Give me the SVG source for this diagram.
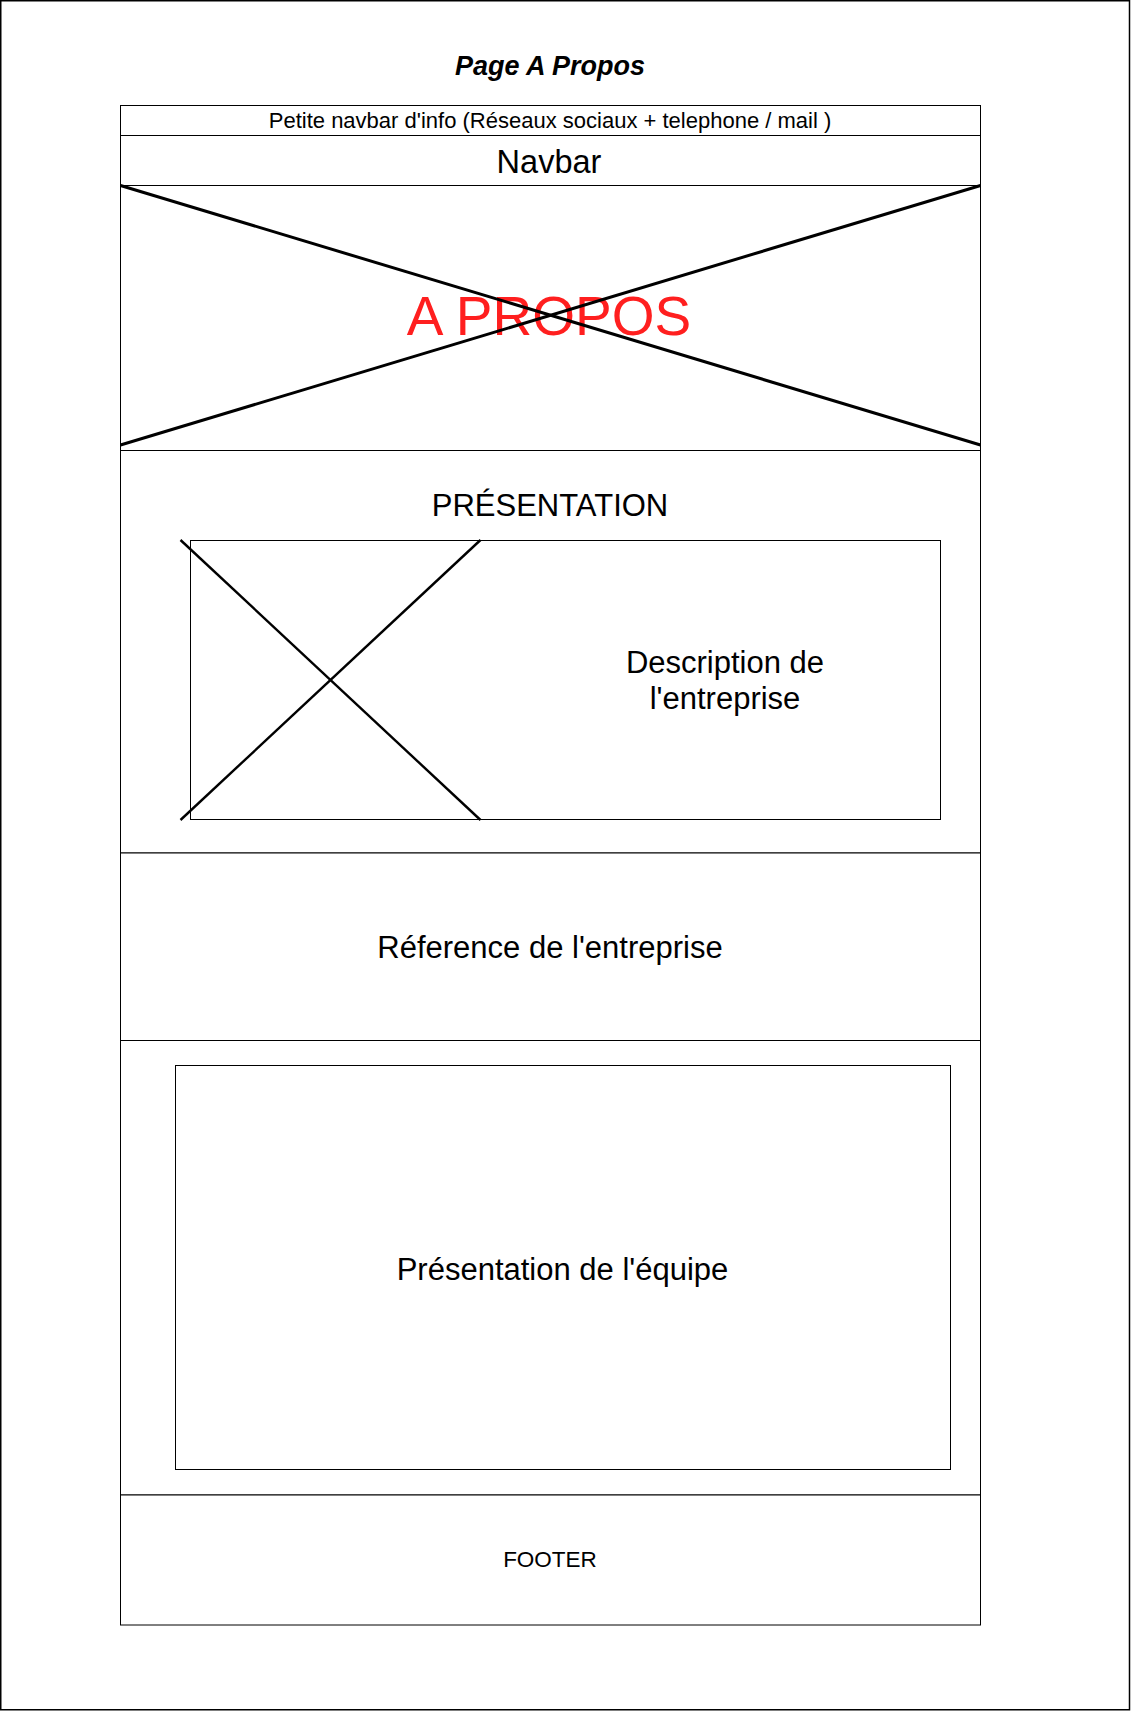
<svg xmlns="http://www.w3.org/2000/svg" width="1131" height="1712" viewBox="0 0 1131 1712">
  <style>
    .frame { fill: #ffffff; stroke: #000000; stroke-width: 1; }
    .cross { stroke: #000000; stroke-width: 3; fill: none; }
    .cross-sm { stroke: #000000; stroke-width: 2.4; fill: none; }
    .lbl { font-family: "Liberation Sans", Arial, Helvetica, sans-serif; fill: #000000; text-anchor: middle; }
  </style>

  <rect x="0" y="0" width="1131" height="1712" fill="#ffffff"/>
  <!-- page border -->
  <rect id="page" x="0.75" y="0.75" width="1128.75" height="1709" fill="#ffffff" stroke="#000000" stroke-width="1.5"/>

  <g id="title">
    <text class="lbl" x="550" y="75" font-size="27" font-weight="bold" font-style="italic">Page A Propos</text>
  </g>

  <g id="info-bar">
    <rect class="frame" x="120.5" y="105.5" width="860" height="30"/>
    <text class="lbl" x="550" y="128" font-size="22">Petite navbar d'info (Réseaux sociaux + telephone / mail )</text>
  </g>

  <g id="navbar">
    <rect class="frame" x="120.5" y="135.5" width="860" height="50"/>
    <text class="lbl" x="549" y="173" font-size="32.5">Navbar</text>
  </g>

  <g id="hero">
    <rect class="frame" x="120.5" y="185.5" width="860" height="265"/>
    <text class="lbl" x="549" y="335" font-size="55" style="fill:#ff1f1f">A PROPOS</text>
    <line class="cross" x1="120.5" y1="185.5" x2="980.5" y2="445"/>
    <line class="cross" x1="120.5" y1="445" x2="980.5" y2="185.5"/>
  </g>

  <g id="presentation">
    <rect class="frame" x="120.5" y="450.5" width="860" height="402.5"/>
    <text class="lbl" x="550" y="516" font-size="31">PRÉSENTATION</text>
  </g>

  <g id="description-card">
    <rect class="frame" x="190.5" y="540.5" width="750" height="279"/>
    <line class="cross-sm" x1="180.5" y1="540" x2="480.5" y2="820"/>
    <line class="cross-sm" x1="180.5" y1="820" x2="480.5" y2="540"/>
    <text class="lbl" x="725" y="673" font-size="31">Description de</text>
    <text class="lbl" x="725" y="709" font-size="31">l'entreprise</text>
  </g>

  <g id="references">
    <rect class="frame" x="120.5" y="853" width="860" height="187.5"/>
    <text class="lbl" x="550" y="958" font-size="31">Réference de l'entreprise</text>
  </g>

  <g id="team">
    <rect class="frame" x="120.5" y="1040.5" width="860" height="454.5"/>
    <rect class="frame" x="175.5" y="1065.5" width="775" height="404"/>
    <text class="lbl" x="562.5" y="1280" font-size="31">Présentation de l'équipe</text>
  </g>

  <g id="footer">
    <rect class="frame" x="120.5" y="1495" width="860" height="130"/>
    <text class="lbl" x="550" y="1567" font-size="22.5">FOOTER</text>
  </g>

  <g id="connectors"></g>
</svg>
